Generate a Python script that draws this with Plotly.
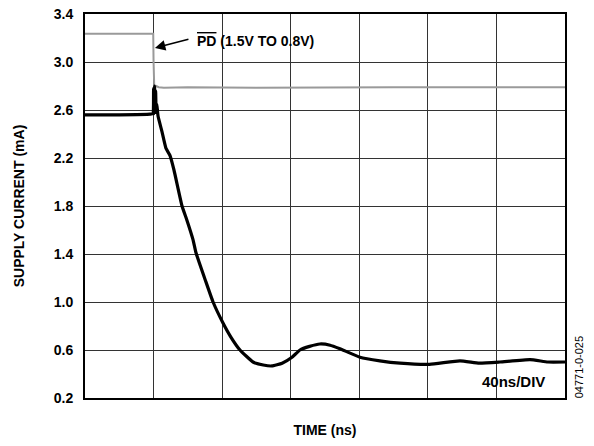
import plotly.graph_objects as go

# --- dados (tempo em ns, corrente em mA) ---
t_pd = [0, 39.8, 40.0, 40.4, 41.5, 43, 46, 60, 100, 140, 180, 220, 280]
i_pd = [3.235, 3.235, 3.0, 2.79, 2.80, 2.79, 2.785, 2.79, 2.785, 2.79, 2.79, 2.79, 2.79]

t_sup = [0, 20, 38, 39.6, 40.0, 40.3, 40.6, 40.9, 41.2, 41.5, 41.9, 42.6, 44.9, 47.25, 49.6,
         51.9, 56.6, 59.5, 63, 64.75, 70, 74.7, 80.5, 85, 90.4, 98, 104, 109, 115,
         120.75, 125.4, 131, 137, 143, 148.75, 160.4, 172, 183.75, 201, 218.75, 230,
         242, 259.6, 270, 280]
i_sup = [2.56, 2.56, 2.565, 2.57, 2.78, 2.57, 2.80, 2.58, 2.76, 2.58, 2.65, 2.55, 2.42, 2.28, 2.22,
         2.10, 1.80, 1.68, 1.52, 1.41, 1.19, 1.0, 0.825, 0.71, 0.60, 0.50, 0.475, 0.467, 0.49,
         0.54, 0.60, 0.63, 0.65, 0.64, 0.61, 0.54, 0.51, 0.49, 0.48, 0.51, 0.49,
         0.50, 0.52, 0.50, 0.50]

y_ticks = [0.2, 0.6, 1.0, 1.4, 1.8, 2.2, 2.6, 3.0, 3.4]

fonte = "Liberation Sans, Arial, sans-serif"

fig = go.Figure()
fig.add_trace(go.Scatter(x=t_pd, y=i_pd, mode="lines",
                         line=dict(color="#9a9a9a", width=2), hoverinfo="skip"))
fig.add_trace(go.Scatter(x=t_sup, y=i_sup, mode="lines",
                         line=dict(color="black", width=3.2, shape="spline", smoothing=0.4),
                         hoverinfo="skip"))

# a página tem 8px de margem no body, por isso a figura é um pouco menor
fig.update_layout(
    width=578, height=430,
    margin=dict(l=77, r=21, t=6, b=40),
    paper_bgcolor="white", plot_bgcolor="white",
    showlegend=False,
    font=dict(family=fonte, size=14, color="black"),
)

fig.update_xaxes(range=[0, 280], dtick=40, tick0=0, showticklabels=False,
                 showgrid=True, gridcolor="#333333", gridwidth=1.2,
                 showline=True, linecolor="black", linewidth=2, mirror=True,
                 zeroline=False, ticks="", automargin=False,
                 title=dict(text="<b>TIME (ns)</b>", font=dict(size=14), standoff=29))
fig.update_yaxes(range=[0.2, 3.4], tickvals=y_ticks,
                 ticktext=[f"<b>{v:.1f}</b>" for v in y_ticks],
                 tickfont=dict(size=14), ticklabeloverflow="allow",
                 showgrid=True, gridcolor="#333333", gridwidth=1.2,
                 showline=True, linecolor="black", linewidth=2, mirror=True,
                 zeroline=False, ticks="", ticklabelstandoff=7, automargin=False,
                 title=dict(text="<b>SUPPLY CURRENT (mA)</b>", font=dict(size=14), standoff=26))

# seta e texto do PD
fig.add_annotation(x=40.8, y=3.117, xref="x", yref="y",
                   text="", showarrow=True, arrowhead=2, arrowsize=1.3, arrowwidth=1.6,
                   arrowcolor="black", ax=35, ay=-9, standoff=0)
fig.add_annotation(x=64.2, y=3.175, xref="x", yref="y", xanchor="left", yanchor="middle",
                   text="<b><span style='text-decoration:overline'>PD</span> (1.5V TO 0.8V)</b>",
                   showarrow=False, font=dict(size=14))
fig.add_annotation(x=0.9625, y=0.042, xref="paper", yref="paper", xanchor="right", yanchor="middle",
                   text="<b>40ns/DIV</b>", showarrow=False, font=dict(size=15))
fig.add_annotation(x=1.0, y=0.08, xref="paper", yref="paper", xanchor="center", yanchor="middle",
                   xshift=14, text="04771-0-025", textangle=-90, showarrow=False,
                   font=dict(size=11))

fig.write_html("out.html")
